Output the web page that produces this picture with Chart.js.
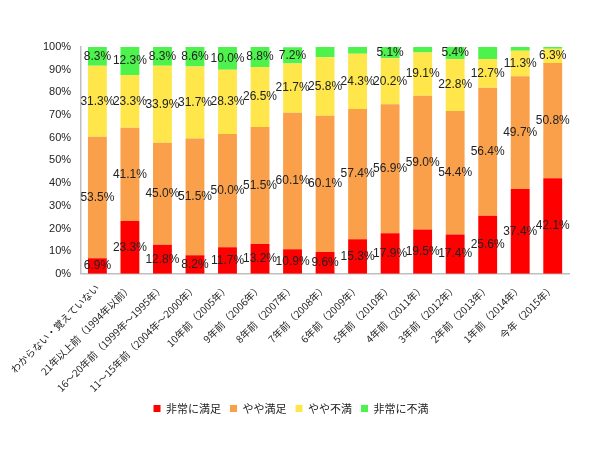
<!DOCTYPE html>
<html>
<head>
<meta charset="utf-8">
<script src="https://cdn.jsdelivr.net/npm/chart.js@4"></script>
<style>
  html, body { margin: 0; padding: 0; background: #fff; }
  #wrap { width: 598px; height: 450px; }
</style>
</head>
<body>
<div id="wrap"><canvas id="chart"></canvas></div>
<script>
const categories = [
  "わからない・覚えていない",
  "21年以上前（1994年以前）",
  "16～20年前（1999年～1995年）",
  "11～15年前（2004年～2000年）",
  "10年前（2005年）",
  "9年前（2006年）",
  "8年前（2007年）",
  "7年前（2008年）",
  "6年前（2009年）",
  "5年前（2010年）",
  "4年前（2011年）",
  "3年前（2012年）",
  "2年前（2013年）",
  "1年前（2014年）",
  "今年（2015年）"
];

const seriesNames = ["非常に満足", "やや満足", "やや不満", "非常に不満"];

const verySatisfied = [6.9, 23.3, 12.8, 8.2, 11.7, 13.2, 10.9, 9.6, 15.3, 17.9, 19.5, 17.4, 25.6, 37.4, 42.1];
const somewhatSatisfied = [53.5, 41.1, 45.0, 51.5, 50.0, 51.5, 60.1, 60.1, 57.4, 56.9, 59.0, 54.4, 56.4, 49.7, 50.8];
const somewhatUnsatisfied = [31.3, 23.3, 33.9, 31.7, 28.3, 26.5, 21.7, 25.8, 24.3, 20.2, 19.1, 22.8, 12.7, 11.3, 6.3];
const veryUnsatisfied = [8.3, 12.3, 8.3, 8.6, 10.0, 8.8, 7.2, 4.5, 3.0, 5.1, 2.4, 5.4, 5.3, 1.6, 0.8];

// which green segments carry a label in the original
const veryUnsatisfiedLabelled = [true, true, true, true, true, true, true, false, false, true, false, true, false, false, false];

const yTicks = [0, 10, 20, 30, 40, 50, 60, 70, 80, 90, 100];

const colors = ['#FF0000', '#FBA04A', '#FFE74B', '#4DF24D'];
const textFont = '"Liberation Sans", "Noto Sans CJK JP", sans-serif';

// draws the value in the middle of each segment
const segmentLabels = {
  id: 'segmentLabels',
  afterDatasetsDraw(chart) {
    const ctx = chart.ctx;
    ctx.save();
    ctx.font = '12px ' + textFont;
    ctx.fillStyle = '#222';
    ctx.textAlign = 'center';
    ctx.textBaseline = 'middle';
    chart.data.datasets.forEach((ds, i) => {
      const meta = chart.getDatasetMeta(i);
      meta.data.forEach((bar, j) => {
        if (ds.showLabel && !ds.showLabel[j]) return;
        const v = ds.data[j];
        ctx.fillText(v.toFixed(1) + '%', bar.x, (bar.y + bar.base) / 2);
      });
    });
    ctx.restore();
  }
};

const ctx = document.getElementById('chart').getContext('2d');
new Chart(ctx, {
  type: 'bar',
  data: {
    labels: categories,
    datasets: [
      { label: seriesNames[0], data: verySatisfied, backgroundColor: colors[0] },
      { label: seriesNames[1], data: somewhatSatisfied, backgroundColor: colors[1] },
      { label: seriesNames[2], data: somewhatUnsatisfied, backgroundColor: colors[2] },
      { label: seriesNames[3], data: veryUnsatisfied, backgroundColor: colors[3], showLabel: veryUnsatisfiedLabelled }
    ]
  },
  options: {
    responsive: true,
    maintainAspectRatio: false,
    animation: false,
    datasets: {
      bar: { categoryPercentage: 1, barPercentage: 0.58 }
    },
    layout: {
      padding: { top: 47, left: 13, right: 29, bottom: 26 }
    },
    scales: {
      x: {
        stacked: true,
        afterFit: (scale) => { scale.height -= 8; },
        grid: { display: false, drawTicks: false },
        border: { display: true, color: '#BFBFBF', width: 1.5 },
        ticks: {
          padding: 8,
          minRotation: 45,
          maxRotation: 45,
          autoSkip: false,
          color: '#222',
          font: { family: '"Noto Sans CJK JP", sans-serif', size: 10 }
        }
      },
      y: {
        stacked: true,
        min: 0,
        max: 100,
        afterBuildTicks: (axis) => { axis.ticks = yTicks.map(v => ({ value: v })); },
        afterFit: (scale) => { scale.width += 20; },
        grid: { display: false, drawTicks: false },
        border: { display: true, color: '#BFBFBF', width: 1.5 },
        ticks: {
          padding: 10,
          color: '#222',
          font: { family: textFont, size: 11 },
          callback: (v) => v + '%'
        }
      }
    },
    plugins: {
      legend: {
        position: 'bottom',
        labels: {
          boxWidth: 7,
          boxHeight: 7,
          padding: 9,
          color: '#222',
          font: { family: '"Noto Sans CJK JP", sans-serif', size: 11 }
        }
      },
      tooltip: { enabled: false }
    }
  },
  plugins: [segmentLabels]
});
</script>
</body>
</html>
